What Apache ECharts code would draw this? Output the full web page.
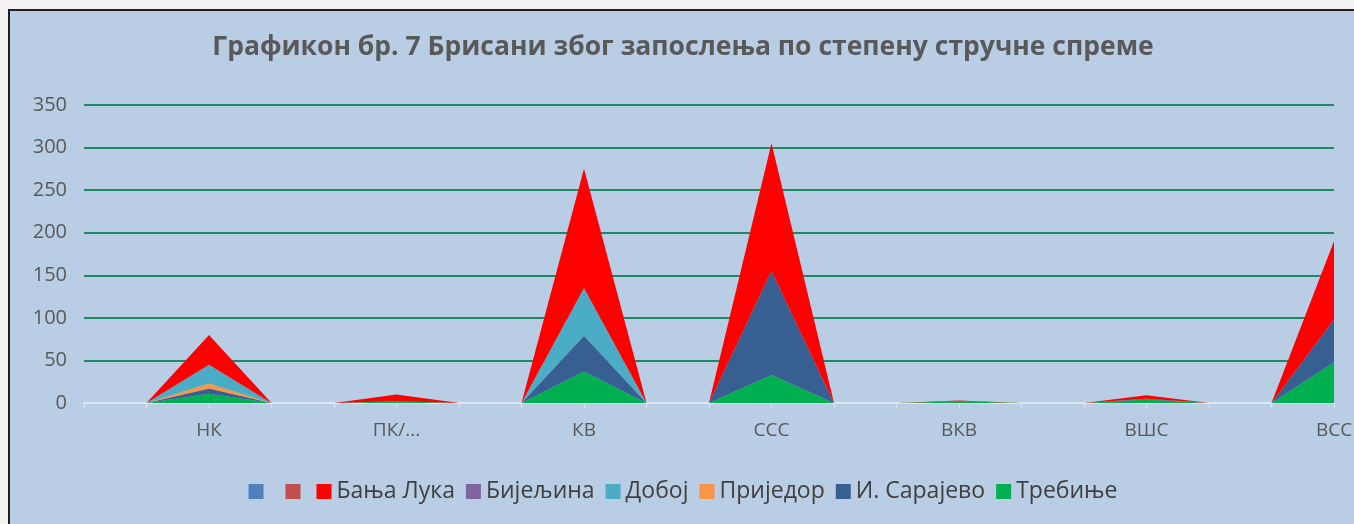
<!DOCTYPE html>
<html><head><meta charset="utf-8">
<script src="https://cdn.jsdelivr.net/npm/echarts@6/dist/echarts.min.js"></script>
<style>
html,body{margin:0;padding:0;background:#f3f1f1;width:1354px;height:524px;overflow:hidden;}
#chart{position:absolute;left:8px;top:9px;width:1346px;height:515px;border-left:2px solid #222;border-top:2px solid #222;background:#b9cde5;}
</style></head>
<body><div id="chart"></div>
<script>
// Categories (education level)
const categories = ['НК', 'ПК/...', 'КВ', 'ССС', 'ВКВ', 'ВШС', 'ВСС'];
// Values per office
const trebinje   = [11, 2, 37, 33, 2, 4, 48];
const iSarajevo  = [6, 0, 42, 122, 0, 1, 50];
const prijedor   = [6, 0, 0, 0, 0, 0, 0];
const doboj      = [22, 0, 56, 0, 0, 0, 0];
const bijeljina  = [0, 0, 0, 0, 0, 0, 0];
const banjaLuka  = [35, 8, 140, 150, 1, 4, 92];
const unnamed1   = [0, 0, 0, 0, 0, 0, 0];
const unnamed2   = [0, 0, 0, 0, 0, 0, 0];

// Each category sits after two empty slots (as in the source sheet)
function expandCats(c){const out=[];c.forEach(n=>{out.push('','',n);});return out;}
function expandVals(v){const out=[];v.forEach(n=>{out.push(0,0,n);});return out;}

const xCats = expandCats(categories);

const NAME_BLANK1 = ' ';
const NAME_BLANK2 = '\u200b';
const seriesDefs = [
  {name:'Требиње', data:trebinje, color:'#00b050'},
  {name:'И. Сарајево', data:iSarajevo, color:'#385f92'},
  {name:'Приједор', data:prijedor, color:'#f79646'},
  {name:'Добој', data:doboj, color:'#4bacc6'},
  {name:'Бијељина', data:bijeljina, color:'#8064a2'},
  {name:'Бања Лука', data:banjaLuka, color:'#ff0000'},
  {name:NAME_BLANK2, data:unnamed2, color:'#c0504d'},
  {name:NAME_BLANK1, data:unnamed1, color:'#4f81bd'}
];
const legendOrder = [NAME_BLANK1, NAME_BLANK2, 'Бања Лука', 'Бијељина', 'Добој', 'Приједор', 'И. Сарајево', 'Требиње'];

const chart = echarts.init(document.getElementById('chart'));
chart.setOption({
  animation:false,
  title:{
    text:'Графикон бр. 7 Брисани због запослења по степену стручне спреме',
    left:'center', top:18,
    textStyle:{fontFamily:'Open Sans', fontWeight:'bold', fontSize:26.5, color:'#595959'}
  },
  legend:{
    data:legendOrder, top:464, left:'center',
    icon:'rect', itemWidth:15, itemHeight:15, itemGap:11,
    textStyle:{fontFamily:'Open Sans', fontSize:23, color:'#404040'}
  },
  grid:{left:74, right:22, top:94, bottom:123},
  xAxis:{
    type:'category', data:xCats, boundaryGap:false,
    axisLine:{lineStyle:{color:'#dfe6ef', width:2}},
    axisTick:{show:true, length:5, lineStyle:{color:'#dfe6ef'}},
    axisLabel:{interval:0, margin:18, fontFamily:'Open Sans', fontSize:19, color:'#595959'}
  },
  yAxis:{
    type:'value', min:0, max:350, interval:50,
    axisLine:{show:false}, axisTick:{show:false},
    axisLabel:{margin:17, fontFamily:'Open Sans', fontSize:20, color:'#595959'},
    splitLine:{lineStyle:{color:'#1e8a64', width:2}}
  },
  series: seriesDefs.map(s=>({
    name:s.name, type:'line', stack:'total', symbol:'none',
    data:expandVals(s.data),
    lineStyle:{width:0}, itemStyle:{color:s.color},
    areaStyle:{color:s.color, opacity:1}
  }))
});
</script></body></html>
